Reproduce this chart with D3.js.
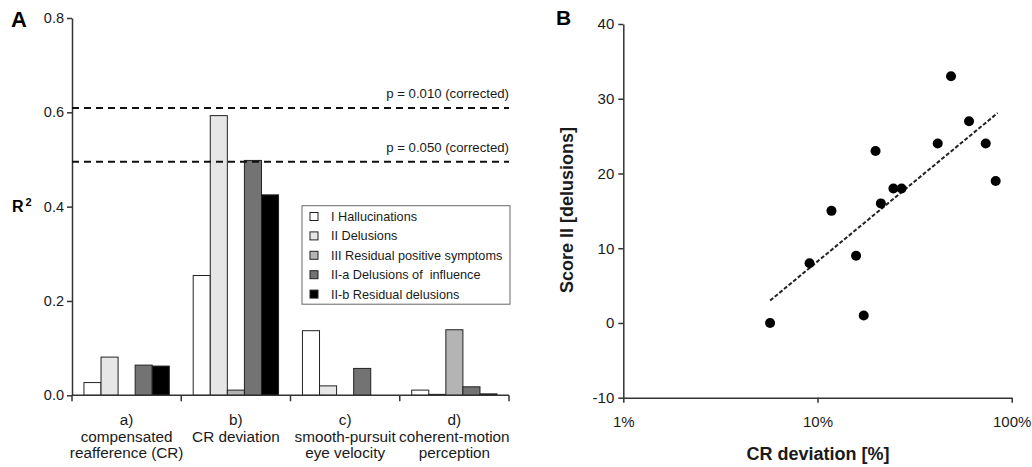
<!DOCTYPE html>
<html>
<head>
<meta charset="utf-8">
<script src="https://cdn.jsdelivr.net/npm/d3@7"></script>
<style>
  body { margin: 0; background: #fff; }
  svg { font-family: "Liberation Sans", Arial, sans-serif; }
  .axis path, .axis line { stroke: #333; stroke-width: 1.5; }
  .axis text { fill: #1a1a1a; }
</style>
</head>
<body>
<div id="chart"></div>
<script>
// panel A data
var categories = ["a", "b", "c", "d"];
var catLabels = [
  ["a)", "compensated", "reafference (CR)"],
  ["b)", "CR deviation"],
  ["c)", "smooth-pursuit", "eye velocity"],
  ["d)", "coherent-motion", "perception"]
];
var seriesNames = ["I Hallucinations", "II Delusions", "III Residual positive symptoms",
  "II-a Delusions of  influence", "II-b Residual delusions"];
var seriesColors = ["#ffffff", "#e6e6e6", "#b4b4b4", "#737373", "#000000"];
var valHalluc = [0.027, 0.254, 0.137, 0.011];
var valDelus = [0.081, 0.593, 0.020, 0.002];
var valResid = [0.000, 0.011, 0.000, 0.139];
var valInfl = [0.064, 0.498, 0.057, 0.018];
var valResDel = [0.062, 0.425, 0.000, 0.003];
var rTicks = [0, 0.2, 0.4, 0.6, 0.8];
var sigValues = [0.609, 0.495];
var sigLabels = ["p = 0.010 (corrected)", "p = 0.050 (corrected)"];

// panel B data
var crDev = [5.7, 9.1, 11.8, 15.8, 17.3, 19.9, 21.2, 24.6, 27.1, 41.6, 48.7, 60.3, 73.5, 82.7];
var score = [0, 8, 15, 9, 1, 23, 16, 18, 18, 24, 33, 27, 24, 19];
var fitX = [5.7, 84.7];
var fitY = [3.0, 28.1];
var scoreTicks = [-10, 0, 10, 20, 30, 40];
var devTicks = [1, 10, 100];

var svg = d3.select('#chart').append('svg').attr('width', 1032).attr('height', 467);

// ---------- panel A ----------
var allVals = [valHalluc, valDelus, valResid, valInfl, valResDel];
var x = d3.scaleBand().domain(categories).range([72, 509]);
var xs = d3.scaleBand().domain(seriesNames).range([0, x.bandwidth()]).paddingOuter(0.7);
var y = d3.scaleLinear().domain([0, 0.8]).range([395.3, 18]);

var gA = svg.append('g');

gA.append('g').attr('class', 'axis')
  .attr('transform', 'translate(72,0)')
  .style('font-size', '14.5px')
  .call(d3.axisLeft(y).tickValues(rTicks).tickFormat(d3.format('.1f')).tickSize(5).tickPadding(3).tickSizeOuter(0))
  .call(function(g) { g.attr('font-family', null); });

// bars
categories.forEach(function(c, ci) {
  seriesNames.forEach(function(s, si) {
    var v = allVals[si][ci];
    gA.append('rect')
      .attr('x', x(c) + xs(s))
      .attr('width', xs.bandwidth())
      .attr('y', y(v))
      .attr('height', y(0) - y(v))
      .attr('fill', seriesColors[si])
      .attr('stroke', '#222')
      .attr('stroke-width', 1);
  });
});

// x axis line and ticks at category boundaries
gA.append('line').attr('x1', 72).attr('x2', 509).attr('y1', y(0)).attr('y2', y(0))
  .attr('stroke', '#333').attr('stroke-width', 1.5);
var bounds = categories.map(function(c) { return x(c); }).concat([x.range()[1]]);
gA.selectAll('.btick').data(bounds).enter().append('line')
  .attr('x1', function(d) { return d; }).attr('x2', function(d) { return d; })
  .attr('y1', y(0)).attr('y2', y(0) + 6)
  .attr('stroke', '#333').attr('stroke-width', 1.5);

// category labels
categories.forEach(function(c, ci) {
  var t = gA.append('text')
    .attr('x', x(c) + x.bandwidth() / 2)
    .attr('text-anchor', 'middle')
    .style('font-size', '15.3px').attr('fill', '#1a1a1a');
  catLabels[ci].forEach(function(line, li) {
    t.append('tspan').attr('x', x(c) + x.bandwidth() / 2).attr('y', 425 + li * 16.5).text(line);
  });
});

// significance lines
sigValues.forEach(function(v, i) {
  gA.append('line').attr('x1', 72).attr('x2', 509).attr('y1', y(v)).attr('y2', y(v))
    .attr('stroke', '#111').attr('stroke-width', 2).attr('stroke-dasharray', '7,5');
  gA.append('text').attr('x', 509).attr('y', y(v) - 10).attr('text-anchor', 'end')
    .style('font-size', '13.2px').attr('fill', '#1a1a1a').text(sigLabels[i]);
});

// legend
var leg = gA.append('g');
leg.append('rect').attr('x', 302).attr('y', 205.7).attr('width', 208).attr('height', 98.5)
  .attr('fill', '#fff').attr('stroke', '#666').attr('stroke-width', 1);
seriesNames.forEach(function(s, i) {
  var cy = 216.5 + i * 19.4;
  leg.append('rect').attr('x', 310).attr('y', cy - 4).attr('width', 8).attr('height', 8)
    .attr('fill', seriesColors[i]).attr('stroke', '#222').attr('stroke-width', 1);
  leg.append('text').attr('x', 331).attr('y', cy + 4.5)
    .style('font-size', '12.7px').style('white-space', 'pre').attr('fill', '#1a1a1a').text(s);
});

gA.append('text').attr('x', 11).attr('y', 27).style('font-size', '22px').attr('font-weight', 'bold').text('A');
var r2 = gA.append('text').attr('x', 12).attr('y', 212).style('font-size', '16px').attr('font-weight', 'bold');
r2.append('tspan').text('R');
r2.append('tspan').attr('dx', 2).attr('dy', -6).style('font-size', '11px').text('2');

// ---------- panel B ----------
var gB = svg.append('g');
var xb = d3.scaleLog().domain([1, 100]).range([623.3, 1011.7]);
var yb = d3.scaleLinear().domain([-10, 40]).range([397.7, 24]);

gB.append('g').attr('class', 'axis')
  .attr('transform', 'translate(623.3,0)')
  .style('font-size', '15px')
  .call(d3.axisLeft(yb).tickValues(scoreTicks).tickFormat(function(d) { return String(d); }).tickSize(5).tickPadding(4).tickSizeOuter(0))
  .call(function(g) { g.attr('font-family', null); });

gB.append('g').attr('class', 'axis')
  .attr('transform', 'translate(0,397.7)')
  .style('font-size', '15px')
  .call(d3.axisBottom(xb).tickValues(devTicks).tickFormat(function(d) { return d + '%'; }).tickSize(5).tickPadding(14).tickSizeOuter(0))
  .call(function(g) { g.attr('font-family', null); });

gB.append('path')
  .datum(d3.zip(fitX, fitY))
  .attr('d', d3.line().x(function(d) { return xb(d[0]); }).y(function(d) { return yb(d[1]); }))
  .attr('stroke', '#222').attr('stroke-width', 2).attr('stroke-dasharray', '4,2').attr('fill', 'none');

gB.selectAll('circle').data(d3.zip(crDev, score)).enter().append('circle')
  .attr('cx', function(d) { return xb(d[0]); })
  .attr('cy', function(d) { return yb(d[1]); })
  .attr('r', 5).attr('fill', '#000');

gB.append('text').attr('x', 556).attr('y', 25).style('font-size', '21px').attr('font-weight', 'bold').text('B');
gB.append('text').attr('x', 818).attr('y', 460).attr('text-anchor', 'middle')
  .style('font-size', '18px').attr('font-weight', 'bold').attr('fill', '#1a1a1a').text('CR deviation [%]');
gB.append('text').attr('transform', 'translate(573,210) rotate(-90)').attr('text-anchor', 'middle')
  .style('font-size', '18px').attr('font-weight', 'bold').attr('fill', '#1a1a1a').text('Score II [delusions]');
</script>
</body>
</html>
